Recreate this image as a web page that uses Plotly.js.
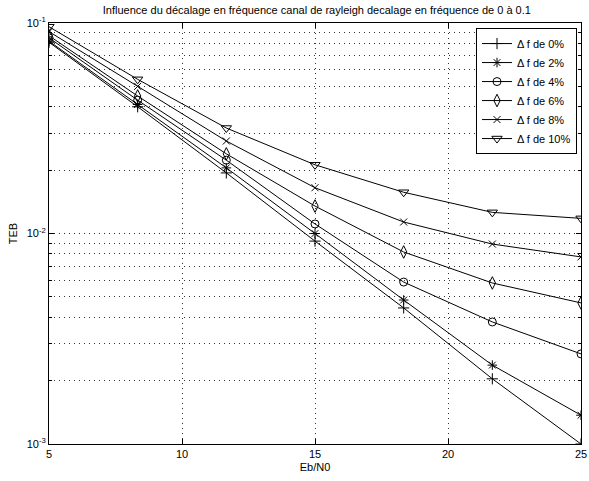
<!DOCTYPE html>
<html>
<head>
<meta charset="utf-8">
<script src="https://cdn.plot.ly/plotly-3.0.1.min.js"></script>
<style>html,body{margin:0;padding:0;background:#fff;}#plot{width:589px;height:481px;}</style>
</head>
<body>
<div id="plot"></div>
<script>
const ebn0 = [5, 8.333, 11.667, 15, 18.333, 21.667, 25];
const df0  = [0.081, 0.040, 0.0194, 0.0092, 0.00443, 0.00204, 0.0010];
const df2  = [0.082, 0.041, 0.0205, 0.0100, 0.00483, 0.00237, 0.00137];
const df4  = [0.085, 0.043, 0.0223, 0.0111, 0.00588, 0.0038, 0.00268];
const df6  = [0.087, 0.045, 0.0239, 0.0135, 0.00817, 0.00582, 0.00468];
const df8  = [0.091, 0.050, 0.0275, 0.0165, 0.01134, 0.00891, 0.00774];
const df10 = [0.096, 0.054, 0.0317, 0.0212, 0.0157, 0.0126, 0.0118];
const seriesNames = ['Δ f de 0%', 'Δ f de 2%', 'Δ f de 4%', 'Δ f de 6%', 'Δ f de 8%', 'Δ f de 10%'];
const xTicks = [5, 10, 15, 20, 25];
const yTickVals = [0.001, 0.01, 0.1];
const yTickText = ['10<sup>-3</sup>', '10<sup>-2</sup>', '10<sup>-1</sup>'];

const seriesData = [df0, df2, df4, df6, df8, df10];
const symbols = ['cross-thin-open', 'asterisk-open', 'circle-open', 'diamond-tall-open', 'x-thin-open', 'triangle-down-open'];
const sizes = [8, 8, 8, 9, 7, 9];

const traces = seriesData.map((y, i) => ({
  x: ebn0, y: y, name: seriesNames[i], type: 'scatter', mode: 'lines+markers',
  line: {color: '#000', width: 1},
  marker: {symbol: symbols[i], size: sizes[i], color: '#000', line: {color: '#000', width: 1}}
}));

const font = 'Liberation Sans, Arial, Helvetica, sans-serif';
const gridCol = '#333';
const gridDash = '1px,4px';
const layout = {
  width: 589, height: 481,
  margin: {l: 49, r: 8, t: 23, b: 37},
  paper_bgcolor: '#fff', plot_bgcolor: '#fff',
  font: {family: font, size: 11, color: '#000'},
  title: {text: 'Influence du décalage en fréquence canal de rayleigh decalage en fréquence de 0 à 0.1',
          font: {family: font, size: 11, color: '#000'}, x: 0.538, xanchor: 'center', y: 0.979, yanchor: 'middle'},
  xaxis: {
    range: [5, 25], tickvals: xTicks, ticktext: xTicks.map(String),
    ticks: 'inside', ticklen: 5, tickcolor: '#000', mirror: 'ticks',
    showline: true, linecolor: '#000', linewidth: 1,
    showgrid: true, gridcolor: gridCol, griddash: gridDash, gridwidth: 1,
    zeroline: false, automargin: false, ticklabeloverflow: 'allow',
    title: {text: 'Eb/N0', font: {family: font, size: 11}, standoff: 4},
    tickfont: {family: font, size: 11}
  },
  yaxis: {
    type: 'log', range: [-3, -1], tickvals: yTickVals, ticktext: yTickText,
    ticks: 'inside', ticklen: 5, tickcolor: '#000', mirror: 'ticks',
    showline: true, linecolor: '#000', linewidth: 1,
    showgrid: true, gridcolor: gridCol, griddash: gridDash, gridwidth: 1,
    zeroline: false, automargin: false, ticklabeloverflow: 'allow',
    minor: {dtick: 'D1', ticks: 'inside', ticklen: 3, tickcolor: '#000', showgrid: true, gridcolor: gridCol, griddash: gridDash, gridwidth: 1},
    title: {text: 'TEB', font: {family: font, size: 11}, standoff: 6},
    tickfont: {family: font, size: 11}
  },
  showlegend: true,
  legend: {x: 0.9925, xanchor: 'right', y: 0.988, yanchor: 'top',
           bgcolor: '#fff', bordercolor: '#000', borderwidth: 1,
           font: {family: font, size: 11, color: '#000'}, tracegroupgap: 0, itemwidth: 30}
};
Plotly.newPlot('plot', traces, layout, {staticPlot: true, displayModeBar: false});
</script>
</body>
</html>
